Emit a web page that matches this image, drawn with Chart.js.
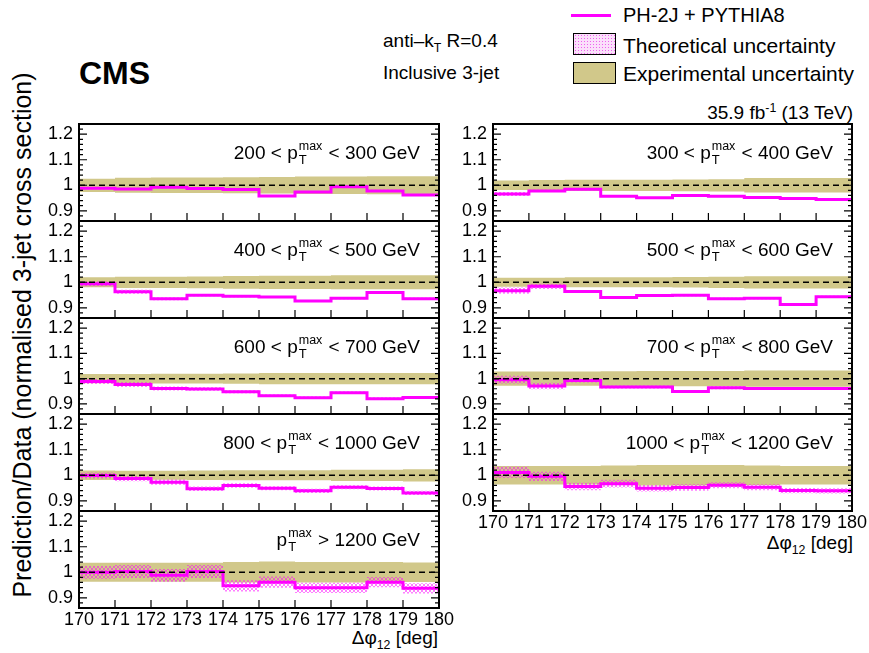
<!DOCTYPE html>
<html>
<head>
<meta charset="utf-8">
<script src="https://cdn.jsdelivr.net/npm/chart.js@4.4.0/dist/chart.umd.min.js"></script>
<style>
  body { margin: 0; background: #fff; }
  #fig { position: relative; width: 869px; height: 653px; overflow: hidden;
         font-family: "Liberation Sans", Arial, Helvetica, sans-serif; color: #000; }
  #fig canvas { position: absolute; }
  .t { position: absolute; white-space: nowrap; line-height: 1; }
  .ts { display: inline-block; vertical-align: middle; line-height: 1.05; font-size: 12.5px; margin: 0 1px; position: relative; top: -1px; }
  .ts span { display: block; }
  .ts span + span { font-size: 13px; }
  sub, sup { font-size: 65%; line-height: 0; }
  .box { position: absolute; border: 1px solid #000; box-sizing: border-box; }
</style>
</head>
<body>
<div id="fig">
  <div class="t" style="left:22px;top:335px;font-size:25px;transform:translate(-50%,-50%) rotate(-90deg);">Prediction/Data (normalised 3-jet cross section)</div>
  <div class="t" style="left:79px;top:57px;font-size:32px;font-weight:bold;">CMS</div>
  <div class="t" style="left:383px;top:31px;font-size:19px;">anti–k<sub>T</sub> R=0.4</div>
  <div class="t" style="left:383px;top:63px;font-size:19px;">Inclusive 3-jet</div>

  <div style="position:absolute;left:571px;top:14px;width:40px;height:3px;background:#ff00ff;"></div>
  <div class="t" style="left:623px;top:5px;font-size:20px;">PH-2J + PYTHIA8</div>
  <div class="box" style="left:573px;top:33px;width:43px;height:22px;background-color:#fbe0fb;background-image:radial-gradient(#f060f0 0.9px, transparent 1px);background-size:3px 3px;"></div>
  <div class="t" style="left:623px;top:35px;font-size:21px;">Theoretical uncertainty</div>
  <div class="box" style="left:573px;top:62px;width:43px;height:22px;background:#d1c88a;"></div>
  <div class="t" style="left:623px;top:63px;font-size:21px;">Experimental uncertainty</div>

  <div class="t" style="right:16px;top:103px;font-size:19px;">35.9 fb<sup>-1</sup> (13 TeV)</div>

  <div class="t" style="right:431px;top:628px;font-size:19px;">Δφ<sub>12</sub> [deg]</div>
  <div class="t" style="right:16px;top:533px;font-size:19px;">Δφ<sub>12</sub> [deg]</div>
</div>

<script>
// bin edges in delta phi_12 (deg) and axis ticks
const xEdges = [170, 171, 172, 173, 174, 175, 176, 177, 178, 179, 180];
const xTicks = [170, 171, 172, 173, 174, 175, 176, 177, 178, 179, 180];
const yTicks = [0.9, 1, 1.1, 1.2];
const refLevel = 1;

const ptLow = [200, 300, 400, 500, 600, 700, 800, 1000, 1200];
const ptHigh = [300, 400, 500, 600, 700, 800, 1000, 1200, null];

// PH-2J + PYTHIA8 / data, theory unc. (half width), experimental unc. (half width)
const pred200 = [0.988, 0.985, 0.992, 0.987, 0.983, 0.958, 0.974, 0.994, 0.978, 0.962];
const theo200 = [0.004, 0.004, 0.004, 0.004, 0.004, 0.004, 0.004, 0.004, 0.004, 0.004];
const expt200 = [0.026, 0.029, 0.030, 0.030, 0.031, 0.032, 0.034, 0.034, 0.035, 0.035];

const pred300 = [0.966, 0.978, 0.984, 0.957, 0.951, 0.960, 0.957, 0.952, 0.948, 0.944];
const theo300 = [0.008, 0.004, 0.004, 0.003, 0.003, 0.003, 0.003, 0.003, 0.003, 0.003];
const expt300 = [0.019, 0.021, 0.022, 0.022, 0.022, 0.023, 0.024, 0.028, 0.028, 0.028];

const pred400 = [0.994, 0.963, 0.935, 0.949, 0.945, 0.942, 0.927, 0.937, 0.960, 0.935];
const theo400 = [0.010, 0.008, 0.005, 0.004, 0.004, 0.004, 0.004, 0.004, 0.004, 0.004];
const expt400 = [0.020, 0.022, 0.022, 0.023, 0.025, 0.026, 0.026, 0.027, 0.027, 0.027];

const pred500 = [0.967, 0.984, 0.964, 0.940, 0.948, 0.949, 0.935, 0.937, 0.913, 0.943];
const theo500 = [0.012, 0.010, 0.006, 0.004, 0.004, 0.004, 0.004, 0.004, 0.004, 0.004];
const expt500 = [0.018, 0.018, 0.020, 0.020, 0.020, 0.021, 0.022, 0.024, 0.024, 0.024];

const pred600 = [0.989, 0.977, 0.961, 0.959, 0.948, 0.932, 0.924, 0.944, 0.920, 0.925];
const theo600 = [0.010, 0.010, 0.008, 0.007, 0.006, 0.005, 0.005, 0.005, 0.005, 0.005];
const expt600 = [0.018, 0.018, 0.019, 0.019, 0.020, 0.022, 0.022, 0.022, 0.022, 0.022];

const pred700 = [0.996, 0.971, 0.993, 0.967, 0.967, 0.949, 0.964, 0.961, 0.961, 0.961];
const theo700 = [0.015, 0.013, 0.008, 0.006, 0.006, 0.006, 0.006, 0.006, 0.006, 0.006];
const expt700 = [0.028, 0.028, 0.028, 0.029, 0.030, 0.030, 0.030, 0.032, 0.032, 0.032];

const pred800 = [0.999, 0.987, 0.973, 0.947, 0.960, 0.949, 0.939, 0.953, 0.948, 0.931];
const theo800 = [0.012, 0.010, 0.010, 0.009, 0.009, 0.008, 0.008, 0.008, 0.008, 0.008];
const expt800 = [0.019, 0.018, 0.018, 0.019, 0.020, 0.020, 0.020, 0.022, 0.022, 0.024];

const pred1000 = [1.011, 0.996, 0.956, 0.967, 0.949, 0.952, 0.961, 0.953, 0.940, 0.939];
const theo1000 = [0.022, 0.018, 0.015, 0.015, 0.013, 0.013, 0.012, 0.012, 0.010, 0.010];
const expt1000 = [0.036, 0.036, 0.036, 0.038, 0.040, 0.040, 0.040, 0.038, 0.036, 0.036];

const pred1200 = [1.000, 1.003, 0.988, 1.003, 0.947, 0.961, 0.939, 0.939, 0.961, 0.937];
const theo1200 = [0.025, 0.025, 0.025, 0.025, 0.022, 0.022, 0.020, 0.020, 0.020, 0.020];
const expt1200 = [0.037, 0.037, 0.037, 0.037, 0.040, 0.042, 0.040, 0.040, 0.040, 0.038];

const preds = [pred200, pred300, pred400, pred500, pred600, pred700, pred800, pred1000, pred1200];
const theos = [theo200, theo300, theo400, theo500, theo600, theo700, theo800, theo1000, theo1200];
const expts = [expt200, expt300, expt400, expt500, expt600, expt700, expt800, expt1000, expt1200];

// page layout
const MAG = '#ff00ff';
const OLIVE = '#d1c88a';
const FONT = '"Liberation Sans", Arial, Helvetica, sans-serif';
const colX = [[79, 439], [493, 852]];
const rowTop = [124, 221, 318, 414, 511, 608];
const AXW = 49, PADR = 20, PADV = 20, XAXH = 30;

const fig = document.getElementById('fig');

// magenta cross-hatch tile for the theory band
const tile = document.createElement('canvas');
tile.width = 4; tile.height = 4;
(function () {
  const g = tile.getContext('2d');
  g.fillStyle = 'rgba(255,0,255,0.5)';
  for (let i = 0; i < 4; i++) { g.fillRect(i, i, 1, 1); g.fillRect(3 - i, i, 1, 1); }
})();

function steps(vals) {
  return xEdges.map((x, i) => ({ x: x, y: vals[Math.min(i, vals.length - 1)] }));
}

// frame + inward ticks like ROOT
const frame = {
  id: 'frame',
  afterDatasetsDraw(chart) {
    const { ctx, chartArea: a, scales: { x, y } } = chart;
    ctx.save();
    ctx.strokeStyle = '#000';
    ctx.lineWidth = 1.2;
    ctx.beginPath();
    xTicks.forEach(v => {
      const px = x.getPixelForValue(v);
      ctx.moveTo(px, a.bottom); ctx.lineTo(px, a.bottom - 8);
    });
    for (let k = 0; k <= 19; k++) {
      const v = y.min + 0.02 * k;
      const py = y.getPixelForValue(v);
      const len = yTicks.some(t => Math.abs(t - v) < 1e-6) ? 8 : 4;
      ctx.moveTo(a.left, py); ctx.lineTo(a.left + len, py);
      ctx.moveTo(a.right, py); ctx.lineTo(a.right - len, py);
    }
    ctx.stroke();
    ctx.lineWidth = 2;
    ctx.strokeRect(a.left, a.top, a.width, a.height);
    ctx.restore();
  }
};

ptLow.forEach((lo, i) => {
  const col = i % 2;
  const row = Math.floor(i / 2);
  const isBottom = (col === 0 && row === 4) || (col === 1 && row === 3);
  const [x0, x1] = colX[col];
  const top = rowTop[row], bot = rowTop[row + 1];
  const pred = preds[i], theo = theos[i], expt = expts[i];

  const cv = document.createElement('canvas');
  const w = (x1 - x0) + AXW + PADR;
  const h = (bot - top) + PADV + (isBottom ? XAXH : PADV);
  cv.width = w; cv.height = h;
  cv.style.left = (x0 - AXW) + 'px';
  cv.style.top = (top - PADV) + 'px';
  fig.appendChild(cv);

  new Chart(cv, {
    type: 'line',
    data: {
      datasets: [
        { data: [{ x: xEdges[0], y: refLevel }, { x: xEdges[xEdges.length - 1], y: refLevel }],
          borderColor: '#000', borderWidth: 1.5, borderDash: [6, 4], pointRadius: 0, fill: false, order: 1 },
        { data: steps(pred), stepped: true, borderColor: MAG, borderWidth: 3, pointRadius: 0, fill: false, order: 2 },
        { data: steps(pred.map((v, j) => v + theo[j])), stepped: true, borderWidth: 0, pointRadius: 0,
          fill: '+1', backgroundColor: c => c.chart.ctx.createPattern(tile, 'repeat'), order: 3 },
        { data: steps(pred.map((v, j) => v - theo[j])), stepped: true, borderWidth: 0, pointRadius: 0, fill: false, order: 4 },
        { data: steps(expt.map(e => refLevel + e)), stepped: true, borderWidth: 0, pointRadius: 0,
          fill: '+1', backgroundColor: OLIVE, order: 5 },
        { data: steps(expt.map(e => refLevel - e)), stepped: true, borderWidth: 0, pointRadius: 0, fill: false, order: 6 }
      ]
    },
    options: {
      responsive: false,
      animation: false,
      events: [],
      layout: { padding: { top: PADV, right: PADR, bottom: isBottom ? 0 : PADV, left: 0 } },
      plugins: { legend: { display: false }, tooltip: { enabled: false } },
      scales: {
        x: {
          type: 'linear', min: 170, max: 180, display: isBottom,
          grid: { display: false, drawTicks: false }, border: { display: false },
          afterBuildTicks: s => { s.ticks = xTicks.map(v => ({ value: v })); },
          afterFit: s => { s.height = isBottom ? XAXH : 0; },
          ticks: { autoSkip: false, maxRotation: 0, padding: 1, color: '#000',
                   font: { family: FONT, size: 18 }, callback: v => String(v) }
        },
        y: {
          type: 'linear', min: 0.86, max: 1.24,
          grid: { display: false, drawTicks: false }, border: { display: false },
          afterBuildTicks: s => { s.ticks = yTicks.map(v => ({ value: v })); },
          afterFit: s => { s.width = AXW; },
          ticks: { padding: 6, color: '#000', font: { family: FONT, size: 18 }, callback: v => String(v) }
        }
      }
    },
    plugins: [frame]
  });

  // bin label
  const pt = 'p<span class="ts"><span>max</span><span>T</span></span>';
  const lab = document.createElement('div');
  lab.className = 't';
  lab.style.fontSize = '19px';
  lab.style.right = (869 - (x1 - 19)) + 'px';
  lab.style.top = (top + 17) + 'px';
  lab.innerHTML = ptHigh[i] ? `${lo} &lt; ${pt} &lt; ${ptHigh[i]} GeV` : `${pt} &gt; ${lo} GeV`;
  fig.appendChild(lab);
});
</script>
</body>
</html>
